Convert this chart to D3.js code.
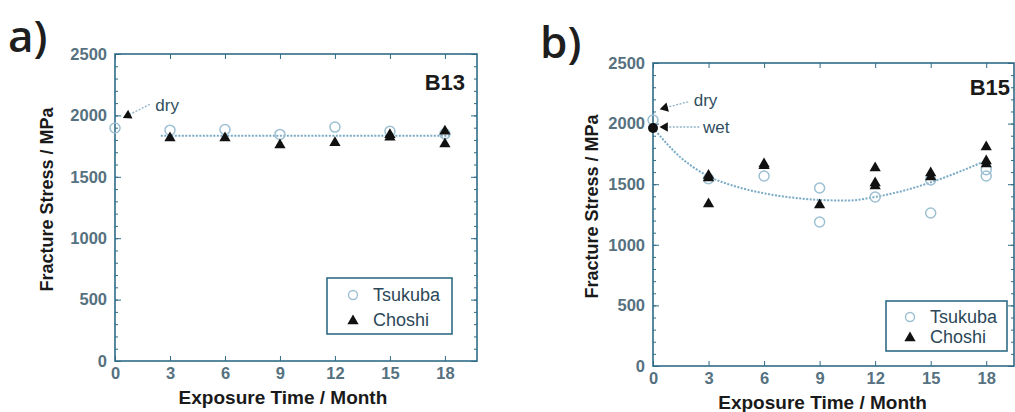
<!DOCTYPE html>
<html>
<head>
<meta charset="utf-8">
<script src="https://cdn.jsdelivr.net/npm/d3@7"></script>
<style>
  body { margin: 0; background: #fff; }
  svg { display: block; }
  .tick text { fill: #56717f; font-family: "Liberation Sans", Arial, sans-serif; font-size: 16.5px; font-weight: bold; }
</style>
</head>
<body>
<div id="content"></div>
<script>
// ---- data ----
const months = [0, 3, 6, 9, 12, 15, 18];
const stressTicks = [0, 500, 1000, 1500, 2000, 2500];
const minorTicks = d3.range(0, 2501, 100);

// panel a) B13
const aTsukubaX = [0, 3, 6, 9, 12, 15, 18];
const aTsukubaY = [1897, 1880, 1885, 1845, 1905, 1870, 1850];
const aChoshiX = [3, 6, 9, 12, 15, 15, 18, 18];
const aChoshiY = [1825, 1825, 1768, 1785, 1850, 1830, 1880, 1775];
const aFitX = [2.5, 18.3];
const aFitY = [1835, 1835];

// panel b) B15
const bTsukubaX = [0, 3, 6, 9, 9, 12, 15, 15, 18, 18];
const bTsukubaY = [2030, 1545, 1568, 1469, 1188, 1394, 1262, 1535, 1568, 1620];
const bChoshiX = [3, 3, 3, 6, 6, 9, 12, 12, 12, 15, 15, 18, 18, 18];
const bChoshiY = [1580, 1560, 1345, 1675, 1660, 1337, 1642, 1518, 1494, 1601, 1568, 1815, 1700, 1675];
const bInitX = [0];
const bInitY = [1964];
const bFitX = [0, 1.5, 3, 4.5, 6, 7.5, 9, 10.5, 12, 13.5, 15, 16.5, 18];
const bFitY = [1965, 1720, 1565, 1480, 1425, 1390, 1370, 1365, 1395, 1445, 1515, 1600, 1695];

const seriesNames = ['Tsukuba', 'Choshi'];

const app = {};
app.frameColor = '#2f6c86';
app.circleColor = '#9dbfd2';
app.fitColor = '#79aac6';
app.font = '"Liberation Sans", Arial, sans-serif';

app.svg = d3.select('#content').append('svg')
  .attr('width', 1015)
  .attr('height', 412);

function zip(xs, ys) { return xs.map((x, i) => [x, ys[i]]); }

function drawPanel(p) {
  const x = d3.scaleLinear().domain([0, p.xMax]).range([p.left, p.right]);
  const y = d3.scaleLinear().domain([0, 2500]).range([p.bottom, p.top]);
  const g = app.svg.append('g');

  // minor ticks, left and right
  g.append('g').attr('transform', `translate(${p.left},0)`)
    .call(d3.axisLeft(y).tickValues(minorTicks).tickSize(-3).tickFormat(''))
    .call(s => s.select('.domain').remove())
    .selectAll('line').attr('stroke', app.frameColor);
  g.append('g').attr('transform', `translate(${p.right},0)`)
    .call(d3.axisRight(y).tickValues(minorTicks).tickSize(-3).tickFormat(''))
    .call(s => s.select('.domain').remove())
    .selectAll('line').attr('stroke', app.frameColor);

  // major axes
  g.append('g').attr('transform', `translate(${p.left},0)`)
    .call(d3.axisLeft(y).tickValues(stressTicks).tickFormat(d3.format('d')).tickSizeInner(-6).tickSizeOuter(0).tickPadding(8))
    .call(s => s.select('.domain').remove())
    .selectAll('line').attr('stroke', app.frameColor);
  g.append('g').attr('transform', `translate(${p.right},0)`)
    .call(d3.axisRight(y).tickValues(stressTicks).tickSizeInner(-6).tickSizeOuter(0).tickFormat(''))
    .call(s => s.select('.domain').remove())
    .selectAll('line').attr('stroke', app.frameColor);
  g.append('g').attr('transform', `translate(0,${p.bottom})`)
    .call(d3.axisBottom(x).tickValues(months).tickFormat(d3.format('d')).tickSizeInner(-5).tickSizeOuter(0).tickPadding(6))
    .call(s => s.select('.domain').remove())
    .selectAll('line').attr('stroke', app.frameColor);
  g.append('g').attr('transform', `translate(0,${p.top})`)
    .call(d3.axisTop(x).tickValues(months).tickSizeInner(-5).tickSizeOuter(0).tickFormat(''))
    .call(s => s.select('.domain').remove())
    .selectAll('line').attr('stroke', app.frameColor);

  // frame
  g.append('rect')
    .attr('x', p.left).attr('y', p.top)
    .attr('width', p.right - p.left).attr('height', p.bottom - p.top)
    .attr('fill', 'none').attr('stroke', app.frameColor).attr('stroke-width', 1.6);

  // fit line
  g.append('path')
    .datum(zip(p.fitX, p.fitY))
    .attr('fill', 'none')
    .attr('stroke', app.fitColor)
    .attr('stroke-width', 2)
    .attr('stroke-dasharray', '2,1.5')
    .attr('d', d3.line().x(d => x(d[0])).y(d => y(d[1])).curve(d3.curveMonotoneX));

  // Tsukuba open circles
  g.selectAll('circle.ts').data(zip(p.tsX, p.tsY)).enter().append('circle')
    .attr('class', 'ts')
    .attr('cx', d => x(d[0])).attr('cy', d => y(d[1])).attr('r', 5)
    .attr('fill', 'none').attr('stroke', app.circleColor).attr('stroke-width', 1.5);

  // initial filled point
  if (p.initX) {
    g.selectAll('circle.init').data(zip(p.initX, p.initY)).enter().append('circle')
      .attr('cx', d => x(d[0])).attr('cy', d => y(d[1])).attr('r', 5)
      .attr('fill', '#111');
  }

  // Choshi triangles
  const tri = d3.symbol().type(d3.symbolTriangle).size(55);
  g.selectAll('path.ch').data(zip(p.chX, p.chY)).enter().append('path')
    .attr('class', 'ch')
    .attr('d', tri)
    .attr('transform', d => `translate(${x(d[0])},${y(d[1]) + 1})`)
    .attr('fill', '#111');

  // dry / wet annotations
  p.notes.forEach(n => {
    const x0 = x(n.tailX), y0 = y(n.tailY), x1 = x(n.tipX), y1 = y(n.tipY);
    const ang = Math.atan2(y1 - y0, x1 - x0) * 180 / Math.PI;
    g.append('line')
      .attr('x1', x0).attr('y1', y0).attr('x2', x1).attr('y2', y1)
      .attr('stroke', '#8fb3c8').attr('stroke-width', 1.3).attr('stroke-dasharray', '2,1.5');
    g.append('path')
      .attr('d', d3.symbol().type(d3.symbolTriangle).size(40))
      .attr('transform', `translate(${x1},${y1}) rotate(${ang + 90})`)
      .attr('fill', '#111');
    g.append('text')
      .attr('x', x(n.textX)).attr('y', y(n.textY))
      .attr('dy', '0.35em')
      .attr('font-family', app.font)
      .attr('font-size', 17)
      .attr('fill', '#2f4f60')
      .text(n.label);
  });

  // sample name
  g.append('text')
    .attr('x', p.nameX).attr('y', p.nameY)
    .attr('text-anchor', 'end')
    .attr('font-family', app.font)
    .attr('font-weight', 'bold').attr('font-size', 22)
    .attr('fill', '#1a1a1a')
    .text(p.name);

  // legend
  const lg = g.append('g');
  lg.append('rect')
    .attr('x', p.legend[0]).attr('y', p.legend[1])
    .attr('width', p.legend[2]).attr('height', p.legend[3])
    .attr('fill', '#fff').attr('stroke', app.frameColor).attr('stroke-width', 1.6);
  seriesNames.forEach((name, i) => {
    const ly = p.legend[1] + p.legendRow0 + i * p.legendStep;
    const mx = p.legend[0] + p.legendMarker;
    if (i === 0) {
      lg.append('circle').attr('cx', mx).attr('cy', ly).attr('r', 4.5)
        .attr('fill', 'none').attr('stroke', app.circleColor).attr('stroke-width', 1.4);
    } else {
      lg.append('path').attr('d', tri).attr('transform', `translate(${mx},${ly + 1})`).attr('fill', '#111');
    }
    lg.append('text')
      .attr('x', mx + 20).attr('y', ly).attr('dy', '0.35em')
      .attr('font-family', app.font)
      .attr('font-size', 18).attr('fill', '#2c4858')
      .text(name);
  });

  // axis titles
  g.append('text')
    .attr('x', (p.left + x(18)) / 2 + 3).attr('y', p.bottom + 43)
    .attr('text-anchor', 'middle')
    .attr('font-family', app.font)
    .attr('font-weight', 'bold').attr('font-size', 19).attr('fill', '#1a1a1a')
    .text('Exposure Time / Month');
  g.append('text')
    .attr('transform', `translate(${p.yTitleX},${(p.top + p.bottom) / 2 - 8}) rotate(-90)`)
    .attr('text-anchor', 'middle')
    .attr('font-family', app.font)
    .attr('font-weight', 'bold').attr('font-size', 18).attr('fill', '#1a1a1a')
    .text('Fracture Stress / MPa');

  // panel letter
  g.append('text')
    .attr('x', p.letterX).attr('y', p.letterY)
    .attr('font-family', '"Open Sans", "DejaVu Sans", sans-serif')
    .attr('font-size', 44).attr('font-weight', 600).attr('fill', '#1e1e1e')
    .text(p.letter);
}

drawPanel({
  letter: 'a)', letterX: 8, letterY: 52,
  left: 115, right: 477, top: 54, bottom: 361, xMax: 19.75,
  tsX: aTsukubaX, tsY: aTsukubaY, chX: aChoshiX, chY: aChoshiY,
  fitX: aFitX, fitY: aFitY,
  notes: [{ label: 'dry', tipX: 0.7, tipY: 2000, tailX: 1.9, tailY: 2090, textX: 2.2, textY: 2085 }],
  name: 'B13', nameX: 465, nameY: 90,
  legend: [327, 278, 125, 56], legendRow0: 17, legendStep: 25, legendMarker: 26,
  yTitleX: 53
});

drawPanel({
  letter: 'b)', letterX: 540, letterY: 58,
  left: 653, right: 1014, top: 63, bottom: 366, xMax: 19.5,
  tsX: bTsukubaX, tsY: bTsukubaY, chX: bChoshiX, chY: bChoshiY,
  initX: bInitX, initY: bInitY,
  fitX: bFitX, fitY: bFitY,
  notes: [
    { label: 'dry', tipX: 0.65, tipY: 2130, tailX: 1.9, tailY: 2180, textX: 2.2, textY: 2195 },
    { label: 'wet', tipX: 0.65, tipY: 1972, tailX: 2.5, tailY: 1972, textX: 2.7, textY: 1972 }
  ],
  name: 'B15', nameX: 1010, nameY: 95,
  legend: [886, 301, 121, 50], legendRow0: 16, legendStep: 20, legendMarker: 24,
  yTitleX: 598
});
</script>
</body>
</html>
